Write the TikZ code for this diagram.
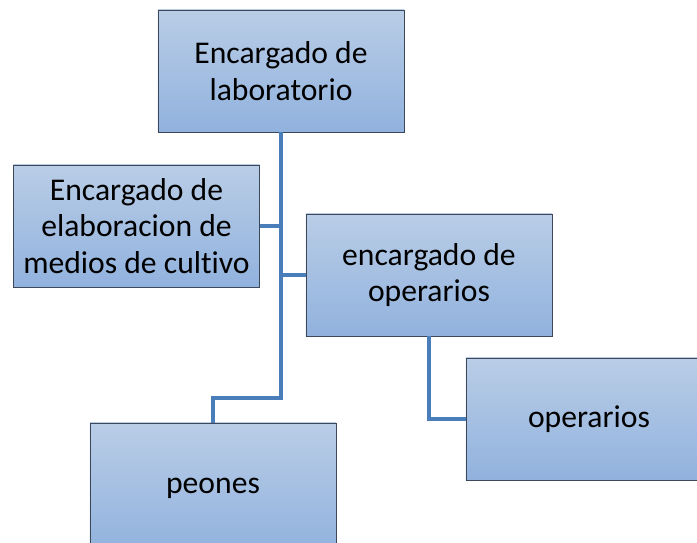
\documentclass[tikz,border=0pt]{standalone}
\usepackage{fontspec}
\setmainfont[Ligatures=NoCommon]{Carlito}
\usetikzlibrary{positioning}

\definecolor{boxtop}{RGB}{185,205,230}
\definecolor{boxbot}{RGB}{145,178,222}
\definecolor{boxline}{RGB}{60,72,90}
\definecolor{linkblue}{RGB}{74,126,187}

\begin{document}
\begin{tikzpicture}[
    x=0.025cm, y=-0.025cm,
    % estilos
    box/.style={
        rectangle, draw=boxline, line width=0.6pt,
        top color=boxtop, bottom color=boxbot,
        minimum width=6.15cm, minimum height=3.05cm,
        align=center, font=\fontsize{22.5}{26}\selectfont
    },
    link/.style={draw=linkblue, line width=2.2pt}
]
\useasboundingbox (0,0) rectangle (697,542);

% cajas
\node[box] (lab) at (281,71) {Encargado de\\laboratorio};
\node[box] (elab) at (136.5,226) {Encargado de\\elaboracion de\\medios de cultivo};
\node[box] (encop) at (429,275) {encargado de\\operarios};
\node[box] (oper) at (589,419) {operarios};
\node[box, minimum height=3.25cm] (peones) at (213,488) {peones};

% conexiones
\coordinate (bend) at (281,398);
\draw[link] (lab.south) -- (bend) -| (peones.north);
\draw[link] (elab.east) -- (elab.east -| lab.south);
\draw[link] (encop.west) -- (encop.west -| lab.south);
\draw[link] (encop.south) |- (oper.west);

\end{tikzpicture}
\end{document}
